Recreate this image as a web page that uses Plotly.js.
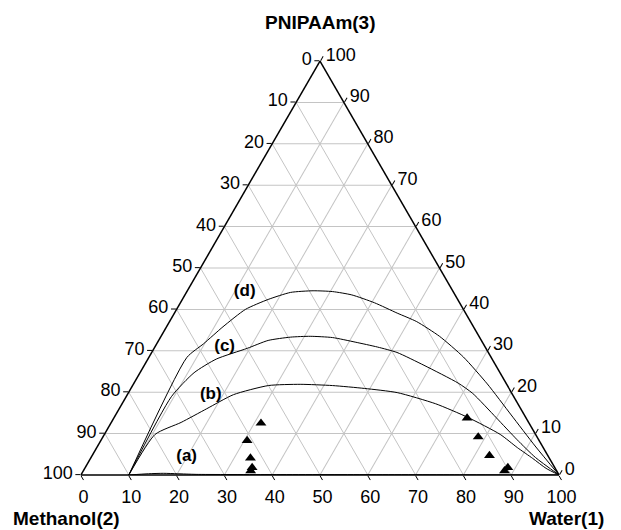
<!DOCTYPE html>
<html>
<head>
<meta charset="utf-8">
<script src="https://cdn.plot.ly/plotly-3.0.1.min.js"></script>
<style>html,body{margin:0;padding:0;background:#fff;}</style>
</head>
<body>
<div id="chart" style="width:621px;height:530px;"></div>
<script>
// Ternary: a = PNIPAAm(3) (top), b = Methanol(2) (bottom-left), c = Water(1) (bottom-right), wt%
const tickValues = [0, 10, 20, 30, 40, 50, 60, 70, 80, 90, 100];
const tickLabels = ['100', '90', '80', '70', '60', '50', '40', '30', '20', '10', '0'];
const axisTitles = ['PNIPAAm(3)', 'Methanol(2)', 'Water(1)'];

// Binodal curves: Water and PNIPAAm content (Methanol is the remainder)
const curveA_water   = [10, 14, 17, 20, 24, 40, 60, 80, 100];
const curveA_pnipaam = [0, 0.3, 0.4, 0.3, 0.15, 0.1, 0.08, 0.05, 0];

const curveB_water   = [10, 10.6, 14.6, 18.3, 22.2, 28.4, 34.9, 41.8, 48.9, 56.2, 65.6, 74.0, 82.8, 88.0, 92.5, 96.5, 100];
const curveB_pnipaam = [0, 9.8, 12.7, 16.0, 19.4, 21.6, 21.9, 21.6, 20.9, 19.9, 17.2, 13.9, 9.8, 6.6, 4.0, 1.6, 0];

const curveC_water   = [10, 9.45, 11.3, 14.3, 19.5, 22.9, 27.2, 31.2, 36.0, 41.3, 46.6, 51.3, 58.5, 67.8, 72.1, 80.0, 87.0, 93.0, 100];
const curveC_pnipaam = [0, 18.9, 24.7, 28.0, 30.6, 32.5, 33.3, 33.5, 33.2, 32.1, 30.9, 29.6, 26.5, 22.2, 19.7, 13.8, 8.5, 4.2, 0];

const curveD_water   = [10, 7.95, 9.8, 11.8, 14.4, 17.95, 21.8, 26.3, 30.5, 34.9, 40.6, 46.6, 51.7, 58.25, 65.75, 74.0, 82.75, 91.5, 100];
const curveD_pnipaam = [0, 28.4, 31.7, 35.8, 40.0, 42.4, 44.1, 44.5, 44.3, 43.5, 41.6, 39.1, 37.05, 33.5, 28.5, 22.0, 14.5, 7.0, 0];

// Experimental points (triangles)
const pointsWater   = [31.4, 30.6, 33.4, 34.9, 35.0, 73.9, 78.5, 83.1, 88.4, 88.1];
const pointsPnipaam = [12.5, 8.3, 4.1, 1.8, 1.0, 13.75, 9.2, 4.7, 1.8, 1.0];

// Curve labels
const labelText    = ['(a)', '(b)', '(c)', '(d)'];
const labelWater   = [19.9, 17.5, 14.6, 12.1];
const labelPnipaam = [4.4, 19.3, 30.9, 44.3];

const FONT = 'Liberation Sans, Arial, sans-serif';

function curve(w, p) {
  return {
    type: 'scatterternary', mode: 'lines',
    a: p, c: w,
    line: {color: '#000', width: 1, shape: 'spline', smoothing: 0.6},
    hoverinfo: 'skip', showlegend: false
  };
}

const traces = [
  curve(curveA_water, curveA_pnipaam),
  curve(curveB_water, curveB_pnipaam),
  curve(curveC_water, curveC_pnipaam),
  curve(curveD_water, curveD_pnipaam),
  {
    type: 'scatterternary', mode: 'markers',
    a: pointsPnipaam, c: pointsWater,
    marker: {symbol: 'triangle-up', size: 9.5, color: '#000'},
    showlegend: false
  },
  {
    type: 'scatterternary', mode: 'text',
    a: labelPnipaam, c: labelWater, text: labelText,
    textposition: 'middle center',
    textfont: {family: FONT, size: 17, color: '#000', weight: 'bold'},
    showlegend: false, cliponaxis: false
  }
];

function axis() {
  return {
    title: {text: ''},
    tickmode: 'array',
    tickvals: tickValues,
    ticktext: tickLabels,
    ticks: 'outside', ticklen: 5, tickwidth: 1, tickcolor: '#000',
    tickfont: {family: FONT, size: 18, color: '#000'},
    showline: true, linecolor: '#000', linewidth: 1.5,
    showgrid: true, gridcolor: '#c4c4c4', gridwidth: 1,
    min: 0
  };
}

const titleFont = {family: FONT, size: 19, color: '#000', weight: 'bold'};
const annotations = [
  {text: axisTitles[0], x: 0.502, y: 1.094},
  {text: axisTitles[1], x: -0.03, y: -0.104},
  {text: axisTitles[2], x: 1.016, y: -0.104}
].map(o => Object.assign(o, {
  xref: 'paper', yref: 'paper', xanchor: 'center', yanchor: 'middle',
  showarrow: false, font: titleFont
}));

const layout = {
  width: 621, height: 530,
  margin: {l: 81, r: 62, t: 61, b: 55},
  paper_bgcolor: '#fff',
  showlegend: false,
  ternary: {
    sum: 100,
    bgcolor: '#fff',
    aaxis: axis(),
    baxis: axis(),
    caxis: axis()
  },
  annotations: annotations
};

Plotly.newPlot('chart', traces, layout, {displayModeBar: false, staticPlot: true});
</script>
</body>
</html>
